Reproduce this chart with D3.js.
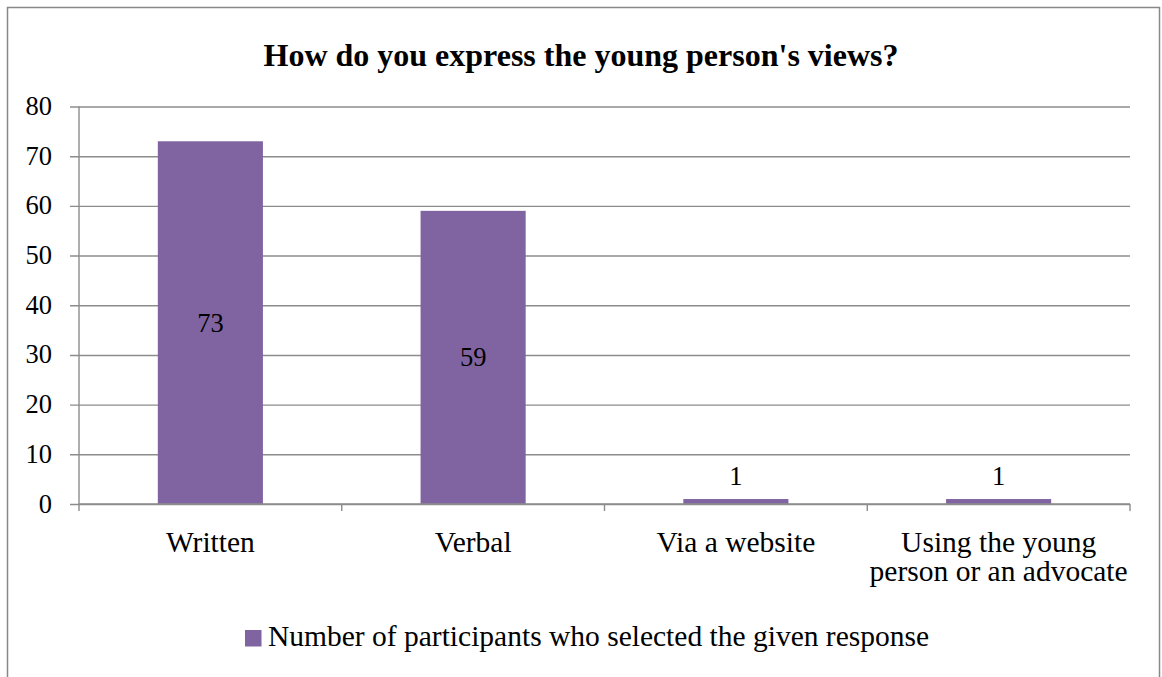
<!DOCTYPE html>
<html>
<head>
<meta charset="utf-8">
<script src="https://cdn.jsdelivr.net/npm/d3@7"></script>
<style>
  html, body { margin: 0; padding: 0; background: #fff; }
  svg { display: block; }
  text { font-family: "Palatino Linotype", "Book Antiqua", Palatino, "Liberation Serif", serif; fill: #000; }
</style>
</head>
<body>
<svg id="chart" width="1162" height="677"></svg>
<script>
const title = "How do you express the young person's views?";
const categories = ["Written", "Verbal", "Via a website", "Using the young person or an advocate"];
const categoryLines = [["Written"], ["Verbal"], ["Via a website"], ["Using the young", "person or an advocate"]];
const values = [73, 59, 1, 1];
const yTicks = [0, 10, 20, 30, 40, 50, 60, 70, 80];
const seriesName = "Number of participants who selected the given response";

const svg = d3.select("#chart");
const plot = { left: 79, right: 1130, top: 106.5, bottom: 504 };
const barColor = "#8064A2";
const gridColor = "#8c8c8c";

// chart border (bottom edge clipped off the picture)
svg.append("rect")
  .attr("x", 7.5).attr("y", 7.5)
  .attr("width", 1152).attr("height", 720)
  .attr("fill", "#fff")
  .attr("stroke", "#888").attr("stroke-width", 1.5);

const x = d3.scaleBand().domain(categories).range([plot.left, plot.right]).paddingInner(0).paddingOuter(0);
const y = d3.scaleLinear().domain([0, 80]).range([plot.bottom, plot.top]);

// title
svg.append("text")
  .attr("x", 581).attr("y", 66)
  .attr("text-anchor", "middle")
  .attr("font-size", 32).attr("font-weight", "bold")
  .text(title);

// gridlines with left ticks
const yAxis = d3.axisLeft(y).tickValues(yTicks).tickSize(-(plot.right - plot.left)).tickPadding(0).tickFormat("");
const gy = svg.append("g").attr("transform", `translate(${plot.left},0)`).call(yAxis);
gy.select(".domain").remove();
gy.selectAll(".tick line").attr("x1", -9).attr("stroke", gridColor).attr("stroke-width", 1.4);
gy.selectAll(".tick").append("text")
  .attr("x", -27).attr("y", 8)
  .attr("text-anchor", "end")
  .attr("font-size", 26.5)
  .text(d => d);

// bars
const bw = x.bandwidth() * 0.4;
svg.append("g").selectAll("rect").data(values).join("rect")
  .attr("x", (d, i) => x(categories[i]) + (x.bandwidth() - bw) / 2)
  .attr("y", d => y(d))
  .attr("width", bw)
  .attr("height", d => y(0) - y(d))
  .attr("fill", barColor);

// y axis line
svg.append("line")
  .attr("x1", plot.left).attr("x2", plot.left)
  .attr("y1", y(80)).attr("y2", y(0))
  .attr("stroke", gridColor).attr("stroke-width", 1.4);

// x axis
const xAxis = d3.axisBottom(x).tickSize(0).tickFormat("");
const gx = svg.append("g").attr("transform", `translate(0,${plot.bottom})`).call(xAxis);
gx.select(".domain").attr("stroke", gridColor).attr("stroke-width", 1.4).attr("d", `M${plot.left},0H${plot.right}`);
gx.selectAll(".tick").remove();
const boundaries = categories.map(c => x(c)).concat([x(categories[categories.length - 1]) + x.bandwidth()]);
gx.selectAll("line.sep").data(boundaries).join("line")
  .attr("class", "sep")
  .attr("x1", d => d).attr("x2", d => d)
  .attr("y1", 0).attr("y2", 7)
  .attr("stroke", gridColor).attr("stroke-width", 1.4);

// category labels
const catG = svg.append("g");
categoryLines.forEach((lines, i) => {
  const t = catG.append("text")
    .attr("text-anchor", "middle")
    .attr("font-size", 29.5)
    .attr("x", x(categories[i]) + x.bandwidth() / 2)
    .attr("y", 552);
  lines.forEach((ln, j) => {
    t.append("tspan")
      .attr("x", x(categories[i]) + x.bandwidth() / 2)
      .attr("dy", j === 0 ? 0 : 29)
      .text(ln);
  });
});

// data labels
svg.append("g").selectAll("text").data(values).join("text")
  .attr("x", (d, i) => x(categories[i]) + x.bandwidth() / 2)
  .attr("y", d => {
    const h = y(0) - y(d);
    return h > 40 ? (y(d) + y(0)) / 2 + 9 : y(d) - 14;
  })
  .attr("text-anchor", "middle")
  .attr("font-size", 26.5)
  .text(d => d);

// legend
const lg = svg.append("g");
lg.append("rect").attr("x", 245).attr("y", 630).attr("width", 16.5).attr("height", 16.5).attr("fill", barColor);
lg.append("text").attr("x", 268).attr("y", 646).attr("font-size", 29.5).text(seriesName);
</script>
</body>
</html>
